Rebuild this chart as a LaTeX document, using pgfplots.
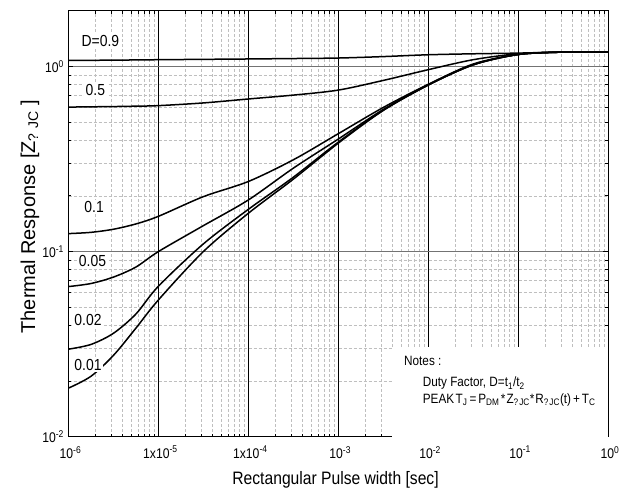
\documentclass[border=0pt]{standalone}
\usepackage{fontspec}
\setmainfont{Liberation Sans}[FakeStretch=0.87]
\newfontfamily\ylabfont{Liberation Sans}
\usepackage{pgfplots}
\usepackage{pgfplotstable}
\pgfplotsset{compat=1.18}
\pgfplotsset{layers/mylayers/.define layer set={axis background,axis grid,pre main,main,axis ticks,axis lines,axis tick labels,axis descriptions,axis foreground}{}}

\pgfplotstableread{
x        d09    d05    d01    d005    d002    d001
1e-6     1.077  0.603  0.125  0.0647  0.0297  0.0183
1.778e-6 1.079  0.605  0.127  0.0672  0.0315  0.0212
3.162e-6 1.081  0.607  0.132  0.0728  0.0362  0.0275
5.623e-6 1.084  0.610  0.141  0.0825  0.0460  0.0386
1e-5     1.087  0.614  0.155  0.100   0.0650  0.0548
3.162e-5 1.092  0.635  0.198  0.138   0.110   0.100
1e-4     1.097  0.667  0.239  0.190   0.169   0.161
3.162e-4 1.103  0.700  0.313  0.282   0.252   0.246
1e-3     1.110  0.745  0.433  0.405   0.390   0.385
3.162e-3 1.130  0.840  0.600  0.585   0.580   0.578
1e-2     1.156  0.960  0.800  0.796   0.794   0.792
3.162e-2 1.170  1.087  1.030  1.020   1.020   1.020
1e-1     1.180  1.170  1.160  1.160   1.160   1.160
3.162e-1 1.196  1.195  1.195  1.195   1.195   1.195
1        1.200  1.200  1.200  1.200   1.200   1.200
}\data

\begin{document}
\begin{tikzpicture}
\begin{axis}[
  at={(0,0)}, anchor=south west,
  scale only axis, width=539.5pt, height=426pt,
  set layers=mylayers,
  xmode=log, ymode=log,
  xmin=1e-6, xmax=1, ymin=0.01, ymax=2,
  xtick={1e-6,1e-5,1e-4,1e-3,1e-2,1e-1,1},
  xticklabels={10\textsuperscript{-6},1x10\textsuperscript{-5},1x10\textsuperscript{-4},10\textsuperscript{-3},10\textsuperscript{-2},10\textsuperscript{-1},10\textsuperscript{0}},
  ytick={0.01,0.1,1},
  yticklabels={10\textsuperscript{-2},10\textsuperscript{-1},10\textsuperscript{0}},
  tick label style={font=\fontsize{14}{16}\selectfont},
  xticklabel style={yshift=-6pt, xshift=2pt},
  yticklabel style={xshift=-1pt},
  grid=both,
  major x grid style={black, line width=0.6pt},
  major y grid style={black!55, line width=1pt},
  minor grid style={black!25, dash pattern=on 3pt off 2pt, line width=0.5pt},
  axis line style={line width=1pt},
  major tick length=5pt, minor tick length=3pt,
  tick style={black, line width=0.7pt},
  xlabel={Rectangular Pulse width [sec]},
  xlabel style={font=\fontsize{18}{21}\selectfont, at={(axis description cs:0.495,-0.112)}, anchor=base},
  ylabel={\ylabfont Thermal Response [Z\textsubscript{? JC} ]},
  ylabel style={font=\fontsize{20}{24}\selectfont, at={(axis description cs:-0.062,0.517)}, anchor=base},
]
\addplot[black, line width=1.5pt, smooth] table[x=x,y=d09] {\data};
\addplot[black, line width=1.5pt, smooth] table[x=x,y=d05] {\data};
\addplot[black, line width=1.5pt, smooth] table[x=x,y=d01] {\data};
\addplot[black, line width=1.5pt, smooth] table[x=x,y=d005] {\data};
\addplot[black, line width=1.5pt, smooth] table[x=x,y=d002] {\data};
\addplot[black, line width=1.5pt, smooth] table[x=x,y=d001] {\data};

\begin{scope}[every node/.style={fill=white, inner sep=1.5pt, anchor=base west, font=\fontsize{16}{18}\selectfont}]
\node at (rel axis cs:0.0213,0.917) {D=0.9};
\node at (rel axis cs:0.0287,0.802) {0.5};
\node at (rel axis cs:0.0263,0.526) {0.1};
\node at (rel axis cs:0.0163,0.399) {0.05};
\node at (rel axis cs:0.0078,0.260) {0.02};
\node at (rel axis cs:0.0078,0.155) {0.01};
\end{scope}

\fill[white] (rel axis cs:0.599,0) rectangle (rel axis cs:1,0.211);
\begin{scope}[every node/.style={inner sep=0pt, anchor=base west, font=\fontsize{13.5}{16}\selectfont}]
\node at (rel axis cs:0.6219,0.166) {Notes :};
\node at (rel axis cs:0.6565,0.117) {Duty Factor, D=t\textsubscript{1}/t\textsubscript{2}};
\node at (rel axis cs:0.6565,0.079) {PEAK\hspace{1.5pt}T\textsubscript{J}\hspace{2pt}=\hspace{2pt}P\textsubscript{DM}\hspace{1.5pt}*\hspace{1pt}Z\textsubscript{?\hspace{1pt}JC}*\hspace{1pt}R\textsubscript{?\hspace{1pt}JC}(t)\hspace{2pt}+\hspace{2pt}T\textsubscript{C}};
\end{scope}
\end{axis}
\pgfresetboundingbox
\path[use as bounding box] (-68.5pt,-58.3pt) rectangle (562.5pt,436.7pt);
\end{tikzpicture}
\end{document}
